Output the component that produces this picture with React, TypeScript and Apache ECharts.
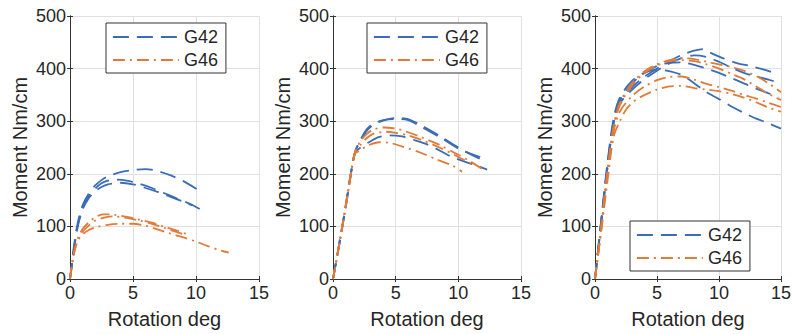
import React, { useEffect, useRef } from "react";
import * as echarts from "echarts";

// ---------- data ----------
const xTicks = [0, 5, 10, 15];
const yTicks = [0, 100, 200, 300, 400, 500];
const legendNames = ["G42", "G46"];

// Panel 1
const p1G42a = [[0,0],[0.15,30],[0.3,60],[0.6,105],[1,140],[1.5,163],[2,178],[2.5,188],[3,195],[4,203],[5,207],[6,209],[7,205],[8,197],[9,186],[10.2,169]];
const p1G42b = [[0,0],[0.15,28],[0.3,55],[0.6,100],[1,135],[1.5,158],[2,172],[2.5,182],[3,187],[3.5,189],[4.5,187],[5.5,181],[6.5,173],[7.5,163],[8.5,153],[9.5,143],[10.3,133]];
const p1G42c = [[0,0],[0.15,27],[0.3,53],[0.6,98],[1,132],[1.5,154],[2,167],[2.5,175],[3,180],[4,183],[5,180],[6,173],[7,165],[8,156],[9,147],[9.7,140]];
const p1G46a = [[0,0],[0.2,35],[0.4,60],[0.7,82],[1,95],[1.5,108],[2,117],[2.6,123],[3.5,122],[4.5,118],[5.5,113],[6.5,107],[7.5,99],[8.5,92],[9.2,86]];
const p1G46b = [[0,0],[0.2,32],[0.4,57],[0.7,78],[1,90],[1.5,102],[2,111],[2.8,117],[3.5,119],[4.5,116],[5.5,111],[6.5,105],[7.5,97],[8.5,89],[9,85]];
const p1G46c = [[0,0],[0.2,33],[0.4,58],[0.7,76],[1,85],[1.5,93],[2,98],[3,103],[4,105],[5,105],[6,101],[7,94],[8,86],[9,79],[10,71],[11,62],[12,54],[12.6,50]];

// Panel 2
const p2G42a = [[0,0],[0.5,65],[1,135],[1.5,210],[1.8,245],[2.2,262],[2.7,282],[3.2,293],[4,301],[5,306],[5.8,305],[7,293],[8.5,272],[10,250],[11,237],[12.1,224]];
const p2G42b = [[0,0],[0.5,68],[1,138],[1.5,212],[1.8,243],[2.2,265],[2.7,285],[3.2,295],[4,302],[5,304],[6,302],[7,290],[8.5,270],[10,248],[11,238],[12.2,228]];
const p2G42c = [[0,0],[0.5,67],[1,136],[1.5,210],[1.75,240],[2.2,250],[3,262],[3.7,270],[4.5,273],[5.5,271],[6.5,264],[7.5,256],[8.7,242],[9.3,234],[10.5,223],[11.3,217],[12.3,208]];
const p2G46a = [[0,0],[0.5,66],[1,137],[1.5,212],[1.8,244],[2.2,262],[2.7,276],[3.2,284],[4,288],[5,286],[6,279],[7,270],[8.5,255],[10,236],[11,223],[12.1,206]];
const p2G46b = [[0,0],[0.5,66],[1,136],[1.5,210],[1.8,242],[2.2,255],[2.7,268],[3.2,276],[4.2,280],[5,278],[6,273],[7,265],[8.5,250],[10,232],[11.3,216]];
const p2G46c = [[0,0],[0.5,65],[1,135],[1.5,208],[1.75,238],[2.2,245],[2.8,254],[3.7,260],[4.5,259],[5.5,252],[6.9,241],[8.4,226],[9.5,216],[10.3,204]];

// Panel 3
const p3G42a = [[0,0],[0.5,110],[1,215],[1.5,300],[2,338],[3,365],[4,385],[5,400],[6,414],[7,426],[8,434],[8.7,437],[9.5,428],[10.3,420],[11.5,410],[12.5,405],[13.5,399],[14.4,392]];
const p3G42b = [[0,0],[0.5,105],[1,210],[1.5,295],[2,333],[3,360],[4,380],[5,396],[6,410],[7,420],[8,425],[9,422],[10,413],[11,402],[12,392],[13,385],[14,379],[14.8,373]];
const p3G42c = [[0,0],[0.5,108],[1,212],[1.5,298],[2,340],[3,372],[4,392],[5,405],[6,411],[7,412],[8,407],[9,400],[10,392],[11,382],[12,372],[13,362],[14,353],[14.8,346]];
const p3G42d = [[0,0],[0.5,112],[1,220],[1.5,305],[2,345],[3,377],[4,392],[5,398],[5.6,397],[7,388],[8,372],[9,355],[10,342],[11,328],[12,316],[13,305],[14,296],[15,286]];
const p3G46a = [[0,0],[0.5,100],[1,205],[1.5,290],[2,335],[3,372],[4,395],[5,408],[6,416],[7,420],[8,418],[9,413],[10,408],[11,403],[12,396],[13,386],[14,372],[15,355]];
const p3G46b = [[0,0],[0.5,95],[1,200],[1.5,285],[2,330],[3,368],[4,392],[5,406],[6,414],[7,416],[8,414],[9,408],[10,400],[11,390],[12,380],[13,366],[14,352],[15,340]];
const p3G46c = [[0,0],[0.5,95],[1,195],[1.5,280],[2,318],[3,348],[4,366],[5,378],[6,384],[7,385],[8,379],[9,371],[10,365],[11,358],[12,350],[13,343],[14,335],[15,327]];
const p3G46d = [[0,0],[0.5,90],[1,185],[1.5,270],[2,300],[2.5,322],[3,335],[3.6,345],[5,360],[6,366],[7,367],[8,363],[9,360],[10,357],[11,352],[12,345],[13,336],[14,326],[15,318]];

const panels = [
  { g42: [p1G42a, p1G42b, p1G42c], g46: [p1G46a, p1G46b, p1G46c] },
  { g42: [p2G42a, p2G42b, p2G42c], g46: [p2G46a, p2G46b, p2G46c] },
  { g42: [p3G42a, p3G42b, p3G42c, p3G42d], g46: [p3G46a, p3G46b, p3G46c, p3G46d] },
];

// ---------- style ----------
const BLUE = "#3b6db5";
const ORANGE = "#e07b39";
const AXIS = "#333333";
const GRIDC = "#e0e0e0";
const FONT = "'Liberation Sans', Arial, sans-serif";
const DASH42 = [16, 8];
const DASH46 = [12, 5, 2, 5];
const gridPos = [
  { left: 70, top: 16, width: 189, height: 263 },
  { left: 333, top: 16, width: 188, height: 263 },
  { left: 595, top: 16, width: 189, height: 263 },
];
const legendPos = [
  { left: 106, top: 23 },
  { left: 367, top: 23 },
  { left: 630, top: 221 },
];

export default function App() {
  const ref = useRef<HTMLDivElement>(null);
  useEffect(() => {
    if (!ref.current) return;
    const chart = echarts.init(ref.current, null, { renderer: "svg" });
    const xMin = xTicks[0], xMax = xTicks[xTicks.length - 1], xInt = xTicks[1] - xTicks[0];
    const yMin = yTicks[0], yMax = yTicks[yTicks.length - 1], yInt = yTicks[1] - yTicks[0];
    const xAxis: any[] = [];
    const yAxis: any[] = [];
    const series: any[] = [];
    panels.forEach((p, i) => {
      xAxis.push({
        type: "value", gridIndex: i, min: xMin, max: xMax, interval: xInt,
        axisLine: { show: true, lineStyle: { color: AXIS, width: 1 } },
        axisTick: { show: true, inside: true, length: 3, lineStyle: { color: AXIS } },
        axisLabel: { fontSize: 18, color: "#262626", margin: 5, fontFamily: FONT },
        splitLine: { show: true, lineStyle: { color: GRIDC, width: 1 } },
        name: "Rotation deg", nameLocation: "middle", nameGap: 30,
        nameTextStyle: { fontSize: 20, color: "#262626", fontFamily: FONT },
      });
      xAxis.push({
        type: "value", gridIndex: i, position: "top", min: xMin, max: xMax, interval: xInt,
        axisLine: { show: true, lineStyle: { color: AXIS, width: 1 } },
        axisTick: { show: true, inside: true, length: 3, lineStyle: { color: AXIS } },
        axisLabel: { show: false }, splitLine: { show: false },
      });
      yAxis.push({
        type: "value", gridIndex: i, min: yMin, max: yMax, interval: yInt,
        axisLine: { show: true, lineStyle: { color: AXIS, width: 1 } },
        axisTick: { show: true, inside: true, length: 3, lineStyle: { color: AXIS } },
        axisLabel: { fontSize: 18, color: "#262626", margin: 4, fontFamily: FONT },
        splitLine: { show: true, lineStyle: { color: GRIDC, width: 1 } },
        name: "Moment Nm/cm", nameLocation: "middle", nameGap: 40,
        nameTextStyle: { fontSize: 20, color: "#262626", fontFamily: FONT },
      });
      yAxis.push({
        type: "value", gridIndex: i, position: "right", min: yMin, max: yMax, interval: yInt,
        axisLine: { show: true, lineStyle: { color: AXIS, width: 1 } },
        axisTick: { show: true, inside: true, length: 3, lineStyle: { color: AXIS } },
        axisLabel: { show: false }, splitLine: { show: false },
      });
      p.g42.forEach((d) => series.push({
        type: "line", name: legendNames[0], xAxisIndex: 2 * i, yAxisIndex: 2 * i, data: d,
        symbol: "none", smooth: 0.3, color: BLUE,
        lineStyle: { color: BLUE, width: 1.8, type: DASH42 },
      }));
      p.g46.forEach((d) => series.push({
        type: "line", name: legendNames[1], xAxisIndex: 2 * i, yAxisIndex: 2 * i, data: d,
        symbol: "none", smooth: 0.3, color: ORANGE,
        lineStyle: { color: ORANGE, width: 1.8, type: DASH46 },
      }));
    });
    const legend = legendPos.map((lp) => ({
      ...lp, orient: "vertical",
      data: [
        { name: legendNames[0], itemStyle: { opacity: 0 }, lineStyle: { color: BLUE, width: 1.8, type: DASH42, opacity: 1 } },
        { name: legendNames[1], itemStyle: { opacity: 0 }, lineStyle: { color: ORANGE, width: 1.8, type: DASH46, opacity: 1 } },
      ],
      itemWidth: 66, itemHeight: 14, itemGap: 5,
      padding: [5, 8, 4, 6], borderColor: AXIS, borderWidth: 1, backgroundColor: "#fff",
      textStyle: { fontSize: 18, color: "#262626", fontFamily: FONT },
      selectedMode: false,
    }));
    chart.setOption({
      animation: false,
      textStyle: { fontFamily: FONT },
      grid: gridPos.map((g) => ({ ...g, containLabel: false })),
      xAxis, yAxis, series, legend,
    });
    return () => chart.dispose();
  }, []);
  return (
    <div
      ref={ref}
      style={{ position: "absolute", left: 0, top: 0, width: 794, height: 334, background: "#fff" }}
    />
  );
}
